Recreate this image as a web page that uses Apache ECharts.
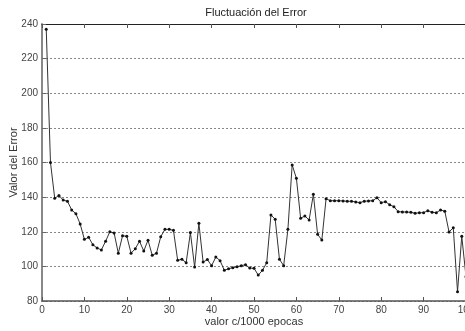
<!DOCTYPE html>
<html>
<head>
<meta charset="utf-8">
<script src="https://cdn.jsdelivr.net/npm/echarts@6/dist/echarts.min.js"></script>
<style>
html,body{margin:0;padding:0;background:#fff;}
#c{width:465px;height:331px;}
</style>
</head>
<body>
<div id="c"></div>
<script>
var epochs = [];
for (var i = 1; i <= 100; i++) epochs.push(i);
var errorValues = [
  237, 160, 139.3, 141, 138.3, 137.6, 132.6, 130.4, 124.5, 115.6,
  116.8, 112.5, 110.6, 109.5, 114.5, 120, 119.3, 107.6, 117.7, 117.4,
  107.6, 110.2, 114.5, 108.9, 115.1, 106.4, 107.6, 117.1, 121.4, 121.4,
  120.8, 103.5, 104.1, 102.1, 119.5, 99.6, 124.9, 102.5, 103.9, 100.4,
  105.4, 103.3, 97.7, 98.7, 99.2, 99.8, 100.4, 101, 99, 98.9,
  95, 97.7, 102.1, 129.7, 127.2, 104.1, 100.4, 121.4, 158.6, 150.9,
  127.8, 129.1, 126.8, 141.6, 118.5, 115.2, 139.1, 137.9, 137.9, 137.9,
  137.8, 137.6, 137.6, 137.2, 136.8, 137.6, 137.8, 137.9, 139.7, 136.8,
  137.4, 135.6, 134.5, 131.6, 131.4, 131.4, 131.2, 130.7, 131, 131,
  132.2, 131.2, 131, 132.6, 131.8, 119.9, 122.3, 85.4, 117.4, 94
];
var xTicks = [0,10,20,30,40,50,60,70,80,90,100];
var yTicks = [80,100,120,140,160,180,200,220,240];

var titleText = 'Fluctuación del Error';
var xName = 'valor c/1000 epocas';
var yName = 'Valor del Error';

var points = epochs.map(function(e, i){ return [e, errorValues[i]]; });

var font = 'Liberation Sans, Arial, sans-serif';
var chart = echarts.init(document.getElementById('c'), null, {renderer:'canvas'});
chart.setOption({
  animation: false,
  backgroundColor: '#fff',
  title: {
    text: titleText,
    left: 251, top: 2, textAlign: 'center',
    textStyle: {fontFamily: font, fontSize: 11, fontWeight: 'normal', color: '#222'}
  },
  grid: {left: 42, top: 24, right: -1, bottom: 30, containLabel: false, outerBoundsMode: 'none'},
  xAxis: [{
    type: 'value', min: xTicks[0], max: xTicks[xTicks.length-1], interval: 10,
    name: xName, nameLocation: 'middle', nameGap: 15, nameMoveOverlap: false,
    nameTextStyle: {fontFamily: font, fontSize: 11, color: '#333'},
    axisLine: {onZero: false, lineStyle: {color: '#555', width: 1.5}},
    axisTick: {inside: true, length: 4, lineStyle: {color: '#555'}},
    axisLabel: {fontFamily: font, fontSize: 10, color: '#444', margin: 4},
    splitLine: {show: false}
  }, {
    type: 'value', position: 'top', min: 0, max: 100, interval: 10,
    axisLine: {show: true, lineStyle: {color: '#222', width: 1.2}},
    axisTick: {inside: true, length: 4, lineStyle: {color: '#555'}},
    axisLabel: {show: false},
    splitLine: {show: false}
  }],
  yAxis: {
    type: 'value', min: yTicks[0], max: yTicks[yTicks.length-1], interval: 20,
    name: yName, nameLocation: 'middle', nameGap: 23, nameMoveOverlap: false,
    nameTextStyle: {fontFamily: font, fontSize: 11, color: '#333'},
    axisLine: {show: true, onZero: false, lineStyle: {color: '#888', width: 2}},
    axisTick: {show: true, inside: true, length: 4, lineStyle: {color: '#666'}},
    axisLabel: {fontFamily: font, fontSize: 10, color: '#444', margin: 4},
    splitLine: {show: true, lineStyle: {color: '#888', type: [2, 2], width: 1}}
  },
  series: [{
    type: 'line',
    data: points,
    symbol: 'circle', symbolSize: 3,
    itemStyle: {color: '#111'},
    lineStyle: {color: '#333', width: 1},
    clip: true
  }]
});
</script>
</body>
</html>
